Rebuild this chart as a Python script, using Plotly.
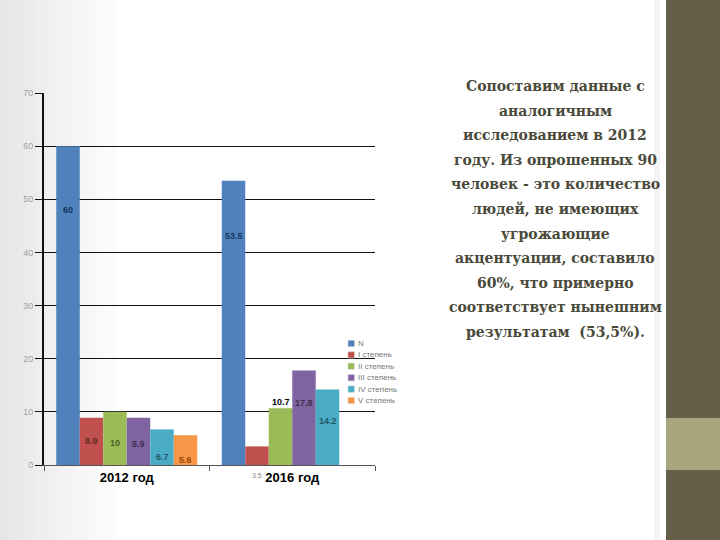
import plotly.graph_objects as go

# ---- data ----
years = ["2012 год", "2016 год"]
series_names = ["N", "I степень", "II степень", "III степень", "IV степень", "V степень"]
vals_N = [60, 53.5]
vals_I = [8.9, 3.5]
vals_II = [10, 10.7]
vals_III = [8.9, 17.8]
vals_IV = [6.7, 14.2]
vals_V = [5.6, None]
all_vals = [vals_N, vals_I, vals_II, vals_III, vals_IV, vals_V]

text_lines = [
    "Сопоставим данные с",
    "аналогичным",
    "исследованием в 2012",
    "году. Из опрошенных 90",
    "человек - это количество",
    "людей, не имеющих",
    "угрожающие",
    "акцентуации, составило",
    "60%, что примерно",
    "соответствует нынешним",
    "результатам  (53,5%).",
]

# ---- style ----
colors = ["#4F81BD", "#C0504D", "#9BBB59", "#8064A2", "#4BACC6", "#F79646"]
label_colors = ["#17375E", "#632523", "#4F6228", "#3F3151", "#215968", "#974806"]
label_shift = [[-64, -55], [-23, -29], [-31, 6], [-26, -33], [-28, -31], [-25, 0]]
W = 0.142
start = -0.426
PW, PH = 331.0, 372.0   # plot area size in px

fig = go.Figure()
xs = list(range(len(years)))
for i, (name, vals) in enumerate(zip(series_names, all_vals)):
    fig.add_trace(go.Bar(
        x=[x for x, v in zip(xs, vals) if v is not None],
        y=[v for v in vals if v is not None],
        name=name, width=W, offset=start + i * W,
        marker=dict(color=colors[i], line=dict(width=0)),
        showlegend=False,
    ))

annotations = []
for i, vals in enumerate(all_vals):
    for j, v in enumerate(vals):
        if v is None:
            continue
        col = label_colors[i]
        size = 9
        bold = True
        if i == 2 and j == 1:
            col = "#000000"
        if i == 1 and j == 1:
            col = "#888888"
            size = 7
            bold = False
        t = f"{v:g}"
        annotations.append(dict(
            x=j + start + i * W + W / 2, y=v, xref="x", yref="y",
            text=f"<b>{t}</b>" if bold else t, showarrow=False,
            yshift=label_shift[i][j], yanchor="middle",
            font=dict(family="Liberation Sans", size=size, color=col),
        ))

# right text block
for k, line in enumerate(text_lines):
    annotations.append(dict(
        x=(555 - 44) / PW, y=1.0, xref="paper", yref="paper", xanchor="center", yanchor="middle",
        text=f"<b>{line}</b>", showarrow=False, yshift=-(86 - 93) - k * 24.6,
        font=dict(family="DejaVu Serif", size=14, color="#4A4A3A"),
    ))

shapes = []
# left gradient background
for k in range(12):
    g = 230 + k * 2
    shapes.append(dict(type="rect", xref="paper", yref="paper", layer="below",
                       x0=-0.14 + k * 0.03, x1=-0.14 + (k + 1) * 0.03 + 0.001, y0=-0.3, y1=1.3,
                       fillcolor=f"rgb({g},{g},{g})", line=dict(width=0)))
# right decorative bars
shapes.append(dict(type="rect", xref="paper", yref="paper", layer="below",
                   x0=(654 - 44) / PW, x1=(666 - 44) / PW, y0=-0.3, y1=1.3,
                   fillcolor="#F4F4F4", line=dict(width=0)))
shapes.append(dict(type="rect", xref="paper", yref="paper", layer="below",
                   x0=(660 - 44) / PW, x1=(666 - 44) / PW, y0=-0.3, y1=1.3,
                   fillcolor="#FFFFFF", line=dict(width=0)))
shapes.append(dict(type="rect", xref="paper", yref="paper", layer="below",
                   x0=(666 - 44) / PW, x1=2.2, y0=-0.3, y1=1.3, fillcolor="#655E48", line=dict(width=0)))
shapes.append(dict(type="rect", xref="paper", yref="paper", layer="below",
                   x0=(666 - 44) / PW, x1=2.2, y0=(465 - 470) / PH, y1=(465 - 418) / PH,
                   fillcolor="#A8A57E", line=dict(width=0)))

# manual compact legend
for k, name in enumerate(series_names):
    yc = (465 - (343.5 + 11.4 * k)) / PH
    shapes.append(dict(type="rect", xref="paper", yref="paper",
                       x0=(348 - 44) / PW, x1=(354.5 - 44) / PW,
                       y0=yc - 3.2 / PH, y1=yc + 3.2 / PH,
                       fillcolor=colors[k], line=dict(width=0.5, color="#DDDDDD")))
    annotations.append(dict(x=(356 - 44) / PW, y=yc, xref="paper", yref="paper",
                            xanchor="left", yanchor="middle", showarrow=False,
                            text=name, font=dict(family="Liberation Sans", size=8, color="#777777")))

fig.update_layout(
    width=720, height=540,
    margin=dict(l=44, r=720 - 44 - int(PW), t=93, b=540 - 93 - int(PH)),
    paper_bgcolor="white", plot_bgcolor="rgba(0,0,0,0)",
    barmode="overlay", showlegend=False,
    xaxis=dict(range=[-0.5, 1.5], tickvals=xs, ticktext=[f"<b>{y}</b>" for y in years],
               ticks="", showline=True, linecolor="#555555", linewidth=1, showgrid=False,
               tickfont=dict(family="Liberation Sans", size=13, color="black"),
               minor=dict(tickvals=[-0.5, 0.5, 1.5], ticks="outside", ticklen=5, tickcolor="#555555",
                          showgrid=False)),
    yaxis=dict(range=[0, 70], dtick=10, showgrid=True, gridcolor="#111111", gridwidth=1,
               zeroline=False, showline=True, linecolor="#111111", linewidth=2,
               ticks="outside", ticklen=7, tickcolor="#111111",
               tickfont=dict(family="Liberation Sans", size=9, color="#A0A0A0")),
    annotations=annotations, shapes=shapes,
    font=dict(family="Liberation Sans"),
)

fig.write_html("out.html", config={"displayModeBar": False},
               post_script="document.body.style.margin='0';document.body.style.overflow='hidden';")
